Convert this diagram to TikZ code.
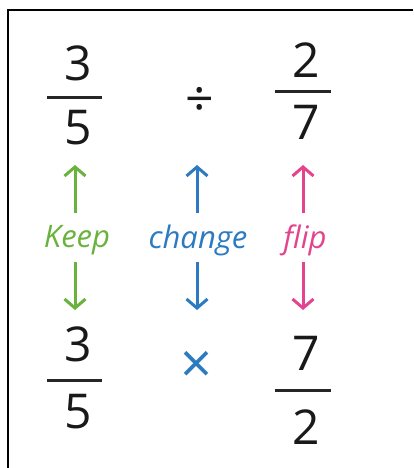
\documentclass[tikz,border=0pt]{standalone}
\usepackage{fontspec}
\setmainfont{Open Sans}
\usetikzlibrary{arrows.meta}
\definecolor{kgreen}{HTML}{6AB23E}
\definecolor{cblue}{HTML}{2C7BC0}
\definecolor{fpink}{HTML}{E2458D}
\tikzset{
  digit/.style={font=\fontsize{48}{48}\selectfont, text=black!90, inner sep=0pt},
  fbar/.style={line width=3pt, black!85},
  lbl/.style={font=\fontsize{31}{31}\selectfont\itshape, inner sep=0pt},
  arr/.style={line width=3pt, -{Straight Barb[length=9pt,width=21pt]}},
  frame/.style={line width=2pt, black}
}
\begin{document}
\begin{tikzpicture}[x=1pt,y=-1pt]
\useasboundingbox (0,0) rectangle (413,468);
\draw[frame] (413,10) -- (8,10) -- (8,468);

% top-left fraction
\node[digit] (tn1) at (78,63) {3};
\node[digit] (td1) at (78,128) {5};
\coordinate (tb1a) at (47,98); \coordinate (tb1b) at (102,98);
\draw[fbar] (tb1a) -- (tb1b);
% divide
\node[digit, font=\fontsize{50}{50}\selectfont] (div) at (200,102) {÷};
% top-right fraction
\node[digit] (tn2) at (306,60) {2};
\node[digit] (td2) at (306,122) {7};
\coordinate (tb2a) at (275,92); \coordinate (tb2b) at (331,92);
\draw[fbar] (tb2a) -- (tb2b);

% labels
\node[lbl, text=kgreen] (keep) at (77,240) {Keep};
\node[lbl, text=cblue] (change) at (198,240) {change};
\node[lbl, text=fpink] (flip) at (305,240) {flip};

% arrow ends
\coordinate (ku) at (75,165); \coordinate (kd) at (75,310);
\coordinate (cu) at (197,165); \coordinate (cd) at (197,310);
\coordinate (fu) at (303,165); \coordinate (fd) at (303,310);
\coordinate (kus) at (75,213); \coordinate (kds) at (75,262);
\coordinate (cus) at (197,213); \coordinate (cds) at (197,262);
\coordinate (fus) at (303,213); \coordinate (fds) at (303,262);
\draw[arr, kgreen] (kus) -- (ku);
\draw[arr, kgreen] (kds) -- (kd);
\draw[arr, cblue] (cus) -- (cu);
\draw[arr, cblue] (cds) -- (cd);
\draw[arr, fpink] (fus) -- (fu);
\draw[arr, fpink] (fds) -- (fd);

% bottom-left fraction
\node[digit] (bn1) at (78,344) {3};
\node[digit] (bd1) at (78,412) {5};
\coordinate (bb1a) at (47,380); \coordinate (bb1b) at (102,380);
\draw[fbar] (bb1a) -- (bb1b);
% times
\node[digit, text=cblue, font=\fontsize{56}{56}\selectfont] (times) at (197,367) {×};
% bottom-right fraction
\node[digit] (bn2) at (306,353) {7};
\node[digit] (bd2) at (306,427) {2};
\coordinate (bb2a) at (275,390); \coordinate (bb2b) at (331,390);
\draw[fbar] (bb2a) -- (bb2b);
\end{tikzpicture}
\end{document}
